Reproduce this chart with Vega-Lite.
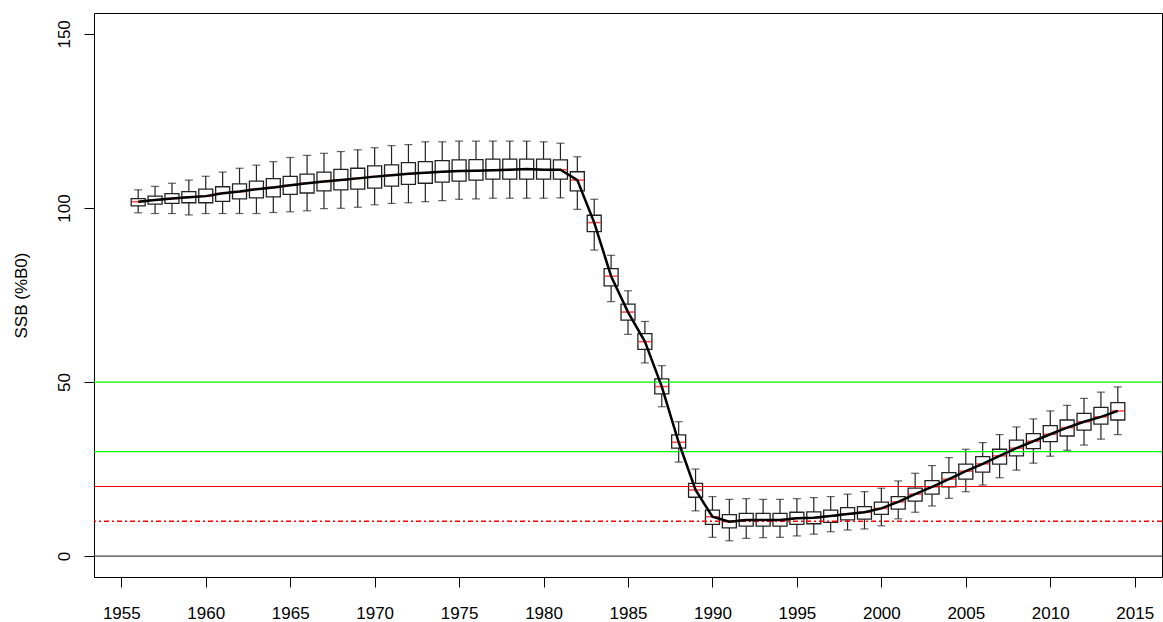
{
  "$schema": "https://vega.github.io/schema/vega-lite/v6.json",
  "width": 1068,
  "height": 564,
  "autosize": {"type": "none"},
  "padding": {"left": 94, "top": 13, "right": 1, "bottom": 45},
  "background": "white",
  "config": {
    "view": {"stroke": "black", "strokeWidth": 1},
    "font": "Liberation Sans",
    "axis": {
      "grid": false,
      "domain": false,
      "tickColor": "black",
      "tickSize": 10,
      "labelColor": "black",
      "labelFont": "Liberation Sans",
      "labelFontSize": 17,
      "titleFont": "Liberation Sans",
      "titleFontSize": 17,
      "titleFontWeight": "normal",
      "titleColor": "black"
    }
  },
  "datasets": {
    "box": [
      {"year": 1956, "lo": 98.6, "q1": 100.6, "med": 101.8, "q3": 102.7, "hi": 105.2},
      {"year": 1957, "lo": 98.4, "q1": 101.1, "med": 102.3, "q3": 103.4, "hi": 106.2},
      {"year": 1958, "lo": 98.4, "q1": 101.3, "med": 102.7, "q3": 104.1, "hi": 107.1},
      {"year": 1959, "lo": 98.0, "q1": 101.5, "med": 103.1, "q3": 104.7, "hi": 108.0},
      {"year": 1960, "lo": 98.4, "q1": 101.5, "med": 103.4, "q3": 105.4, "hi": 109.1},
      {"year": 1961, "lo": 98.4, "q1": 101.9, "med": 104.2, "q3": 106.1, "hi": 110.3},
      {"year": 1962, "lo": 98.4, "q1": 102.6, "med": 104.7, "q3": 106.9, "hi": 111.4},
      {"year": 1963, "lo": 98.4, "q1": 102.9, "med": 105.4, "q3": 107.7, "hi": 112.3},
      {"year": 1964, "lo": 98.7, "q1": 103.2, "med": 105.9, "q3": 108.4, "hi": 113.3},
      {"year": 1965, "lo": 98.9, "q1": 103.9, "med": 106.5, "q3": 109.1, "hi": 114.5},
      {"year": 1966, "lo": 99.2, "q1": 104.3, "med": 107.1, "q3": 109.7, "hi": 115.1},
      {"year": 1967, "lo": 99.8, "q1": 104.9, "med": 107.6, "q3": 110.3, "hi": 115.7},
      {"year": 1968, "lo": 99.9, "q1": 105.2, "med": 108.0, "q3": 111.1, "hi": 116.2},
      {"year": 1969, "lo": 100.2, "q1": 105.4, "med": 108.5, "q3": 111.4, "hi": 116.7},
      {"year": 1970, "lo": 100.9, "q1": 105.7, "med": 109.0, "q3": 112.1, "hi": 117.3},
      {"year": 1971, "lo": 101.3, "q1": 106.3, "med": 109.4, "q3": 112.4, "hi": 117.9},
      {"year": 1972, "lo": 101.5, "q1": 106.8, "med": 109.8, "q3": 113.0, "hi": 118.2},
      {"year": 1973, "lo": 101.8, "q1": 107.1, "med": 110.1, "q3": 113.3, "hi": 119.0},
      {"year": 1974, "lo": 102.1, "q1": 107.4, "med": 110.4, "q3": 113.6, "hi": 119.0},
      {"year": 1975, "lo": 102.5, "q1": 107.7, "med": 110.6, "q3": 113.8, "hi": 119.2},
      {"year": 1976, "lo": 102.6, "q1": 108.0, "med": 110.7, "q3": 113.9, "hi": 119.2},
      {"year": 1977, "lo": 102.8, "q1": 108.3, "med": 110.8, "q3": 114.0, "hi": 119.2},
      {"year": 1978, "lo": 102.8, "q1": 108.3, "med": 111.0, "q3": 114.0, "hi": 119.2},
      {"year": 1979, "lo": 102.8, "q1": 108.3, "med": 111.2, "q3": 114.0, "hi": 119.2},
      {"year": 1980, "lo": 102.8, "q1": 108.3, "med": 111.0, "q3": 114.0, "hi": 119.0},
      {"year": 1981, "lo": 102.9, "q1": 108.3, "med": 111.0, "q3": 113.8, "hi": 118.6},
      {"year": 1982, "lo": 99.6, "q1": 104.9, "med": 108.0, "q3": 110.4, "hi": 114.7},
      {"year": 1983, "lo": 87.9, "q1": 93.2, "med": 95.8, "q3": 97.9, "hi": 102.5},
      {"year": 1984, "lo": 73.1, "q1": 77.6, "med": 80.4, "q3": 82.6, "hi": 86.4},
      {"year": 1985, "lo": 63.7, "q1": 67.8, "med": 70.1, "q3": 72.4, "hi": 76.2},
      {"year": 1986, "lo": 55.5, "q1": 59.4, "med": 61.6, "q3": 63.9, "hi": 67.4},
      {"year": 1987, "lo": 42.9, "q1": 46.6, "med": 48.7, "q3": 50.9, "hi": 54.7},
      {"year": 1988, "lo": 27.0, "q1": 31.0, "med": 32.7, "q3": 34.8, "hi": 38.6},
      {"year": 1989, "lo": 13.0, "q1": 16.9, "med": 19.0, "q3": 20.9, "hi": 25.0},
      {"year": 1990, "lo": 5.4, "q1": 9.1, "med": 11.3, "q3": 13.2, "hi": 17.1},
      {"year": 1991, "lo": 4.4, "q1": 8.1, "med": 9.9, "q3": 11.9, "hi": 16.3},
      {"year": 1992, "lo": 5.1, "q1": 8.6, "med": 10.4, "q3": 12.3, "hi": 16.5},
      {"year": 1993, "lo": 5.3, "q1": 8.6, "med": 10.4, "q3": 12.3, "hi": 16.3},
      {"year": 1994, "lo": 5.4, "q1": 8.6, "med": 10.4, "q3": 12.3, "hi": 16.3},
      {"year": 1995, "lo": 5.8, "q1": 9.1, "med": 10.9, "q3": 12.6, "hi": 16.5},
      {"year": 1996, "lo": 6.3, "q1": 9.3, "med": 11.0, "q3": 12.7, "hi": 16.8},
      {"year": 1997, "lo": 7.0, "q1": 9.7, "med": 11.5, "q3": 13.2, "hi": 17.1},
      {"year": 1998, "lo": 7.5, "q1": 10.4, "med": 12.1, "q3": 13.9, "hi": 17.8},
      {"year": 1999, "lo": 7.8, "q1": 10.6, "med": 12.6, "q3": 14.2, "hi": 18.5},
      {"year": 2000, "lo": 8.7, "q1": 12.0, "med": 13.7, "q3": 15.5, "hi": 19.5},
      {"year": 2001, "lo": 10.7, "q1": 13.5, "med": 15.6, "q3": 17.1, "hi": 21.6},
      {"year": 2002, "lo": 12.6, "q1": 15.8, "med": 17.8, "q3": 19.5, "hi": 23.8},
      {"year": 2003, "lo": 14.4, "q1": 17.8, "med": 19.9, "q3": 21.7, "hi": 26.0},
      {"year": 2004, "lo": 16.6, "q1": 19.9, "med": 22.1, "q3": 24.0, "hi": 28.3},
      {"year": 2005, "lo": 18.5, "q1": 22.1, "med": 24.4, "q3": 26.4, "hi": 30.7},
      {"year": 2006, "lo": 20.4, "q1": 24.1, "med": 26.5, "q3": 28.6, "hi": 32.6},
      {"year": 2007, "lo": 22.5, "q1": 26.4, "med": 28.8, "q3": 30.7, "hi": 34.9},
      {"year": 2008, "lo": 24.7, "q1": 28.8, "med": 31.0, "q3": 33.3, "hi": 37.1},
      {"year": 2009, "lo": 26.7, "q1": 30.9, "med": 33.0, "q3": 35.2, "hi": 39.4},
      {"year": 2010, "lo": 28.7, "q1": 32.9, "med": 35.0, "q3": 37.5, "hi": 41.7},
      {"year": 2011, "lo": 30.4, "q1": 34.5, "med": 36.9, "q3": 39.1, "hi": 43.3},
      {"year": 2012, "lo": 31.9, "q1": 36.2, "med": 38.6, "q3": 41.0, "hi": 45.3},
      {"year": 2013, "lo": 33.6, "q1": 37.9, "med": 40.0, "q3": 42.7, "hi": 47.1},
      {"year": 2014, "lo": 34.9, "q1": 39.1, "med": 41.7, "q3": 44.1, "hi": 48.6}
    ]
  },
  "layer": [
    {
      "data": {"name": "box"},
      "mark": {"type": "rule", "color": "#222222", "strokeWidth": 1.2},
      "encoding": {
        "x": {
          "field": "year", "type": "quantitative", "title": null,
          "scale": {"domain": [1953.68, 2016.32], "nice": false, "zero": false},
          "axis": {"values": [1955, 1960, 1965, 1970, 1975, 1980, 1985, 1990, 1995, 2000, 2005, 2010, 2015], "format": "d", "labelPadding": 18, "title": null}
        },
        "y": {
          "field": "lo", "type": "quantitative", "title": "SSB (%B0)",
          "scale": {"domain": [-6, 156], "nice": false, "zero": false},
          "axis": {"values": [0, 50, 100, 150], "labelAngle": 270, "labelAlign": "center", "labelBaseline": "bottom", "labelPadding": 11, "title": "SSB (%B0)", "titleAngle": 270, "titleX": -73, "titleY": 282, "titleAlign": "center", "titleBaseline": "middle"}
        },
        "y2": {"field": "q1"}
      }
    },
    {
      "data": {"name": "box"},
      "mark": {"type": "rule", "color": "#222222", "strokeWidth": 1.2},
      "encoding": {
        "x": {"field": "year", "type": "quantitative", "title": null},
        "y": {"field": "q3", "type": "quantitative", "title": "SSB (%B0)"},
        "y2": {"field": "hi"}
      }
    },
    {
      "data": {"name": "box"},
      "mark": {"type": "tick", "orient": "horizontal", "color": "#222222", "size": 8, "thickness": 1.2},
      "encoding": {
        "x": {"field": "year", "type": "quantitative", "title": null},
        "y": {"field": "lo", "type": "quantitative", "title": "SSB (%B0)"}
      }
    },
    {
      "data": {"name": "box"},
      "mark": {"type": "tick", "orient": "horizontal", "color": "#222222", "size": 8, "thickness": 1.2},
      "encoding": {
        "x": {"field": "year", "type": "quantitative", "title": null},
        "y": {"field": "hi", "type": "quantitative", "title": "SSB (%B0)"}
      }
    },
    {
      "data": {"name": "box"},
      "mark": {"type": "bar", "width": 14, "fill": "white", "fillOpacity": 0, "stroke": "#222222", "strokeWidth": 1.3},
      "encoding": {
        "x": {"field": "year", "type": "quantitative", "title": null},
        "y": {"field": "q1", "type": "quantitative", "title": "SSB (%B0)"},
        "y2": {"field": "q3"}
      }
    },
    {
      "data": {"name": "box"},
      "mark": {"type": "tick", "orient": "horizontal", "color": "#ff0000", "size": 13, "thickness": 1.6},
      "encoding": {
        "x": {"field": "year", "type": "quantitative", "title": null},
        "y": {"field": "med", "type": "quantitative", "title": "SSB (%B0)"}
      }
    },
    {
      "data": {"values": [{"h": 50}, {"h": 30}]},
      "mark": {"type": "rule", "color": "#00ff00", "strokeWidth": 1.3},
      "encoding": {"y": {"field": "h", "type": "quantitative", "title": "SSB (%B0)"}}
    },
    {
      "data": {"values": [{"h": 20}]},
      "mark": {"type": "rule", "color": "#f00000", "strokeWidth": 1.2},
      "encoding": {"y": {"field": "h", "type": "quantitative", "title": "SSB (%B0)"}}
    },
    {
      "data": {"values": [{"h": 10}]},
      "mark": {"type": "rule", "color": "#ff0000", "strokeWidth": 1.5, "strokeDash": [5, 3, 2, 3]},
      "encoding": {"y": {"field": "h", "type": "quantitative", "title": "SSB (%B0)"}}
    },
    {
      "data": {"values": [{"h": 0}]},
      "mark": {"type": "rule", "color": "#444444", "strokeWidth": 1.2},
      "encoding": {"y": {"field": "h", "type": "quantitative", "title": "SSB (%B0)"}}
    },
    {
      "data": {"name": "box"},
      "mark": {"type": "line", "color": "black", "strokeWidth": 2.5},
      "encoding": {
        "x": {"field": "year", "type": "quantitative", "title": null},
        "y": {"field": "med", "type": "quantitative", "title": "SSB (%B0)"}
      }
    }
  ]
}
